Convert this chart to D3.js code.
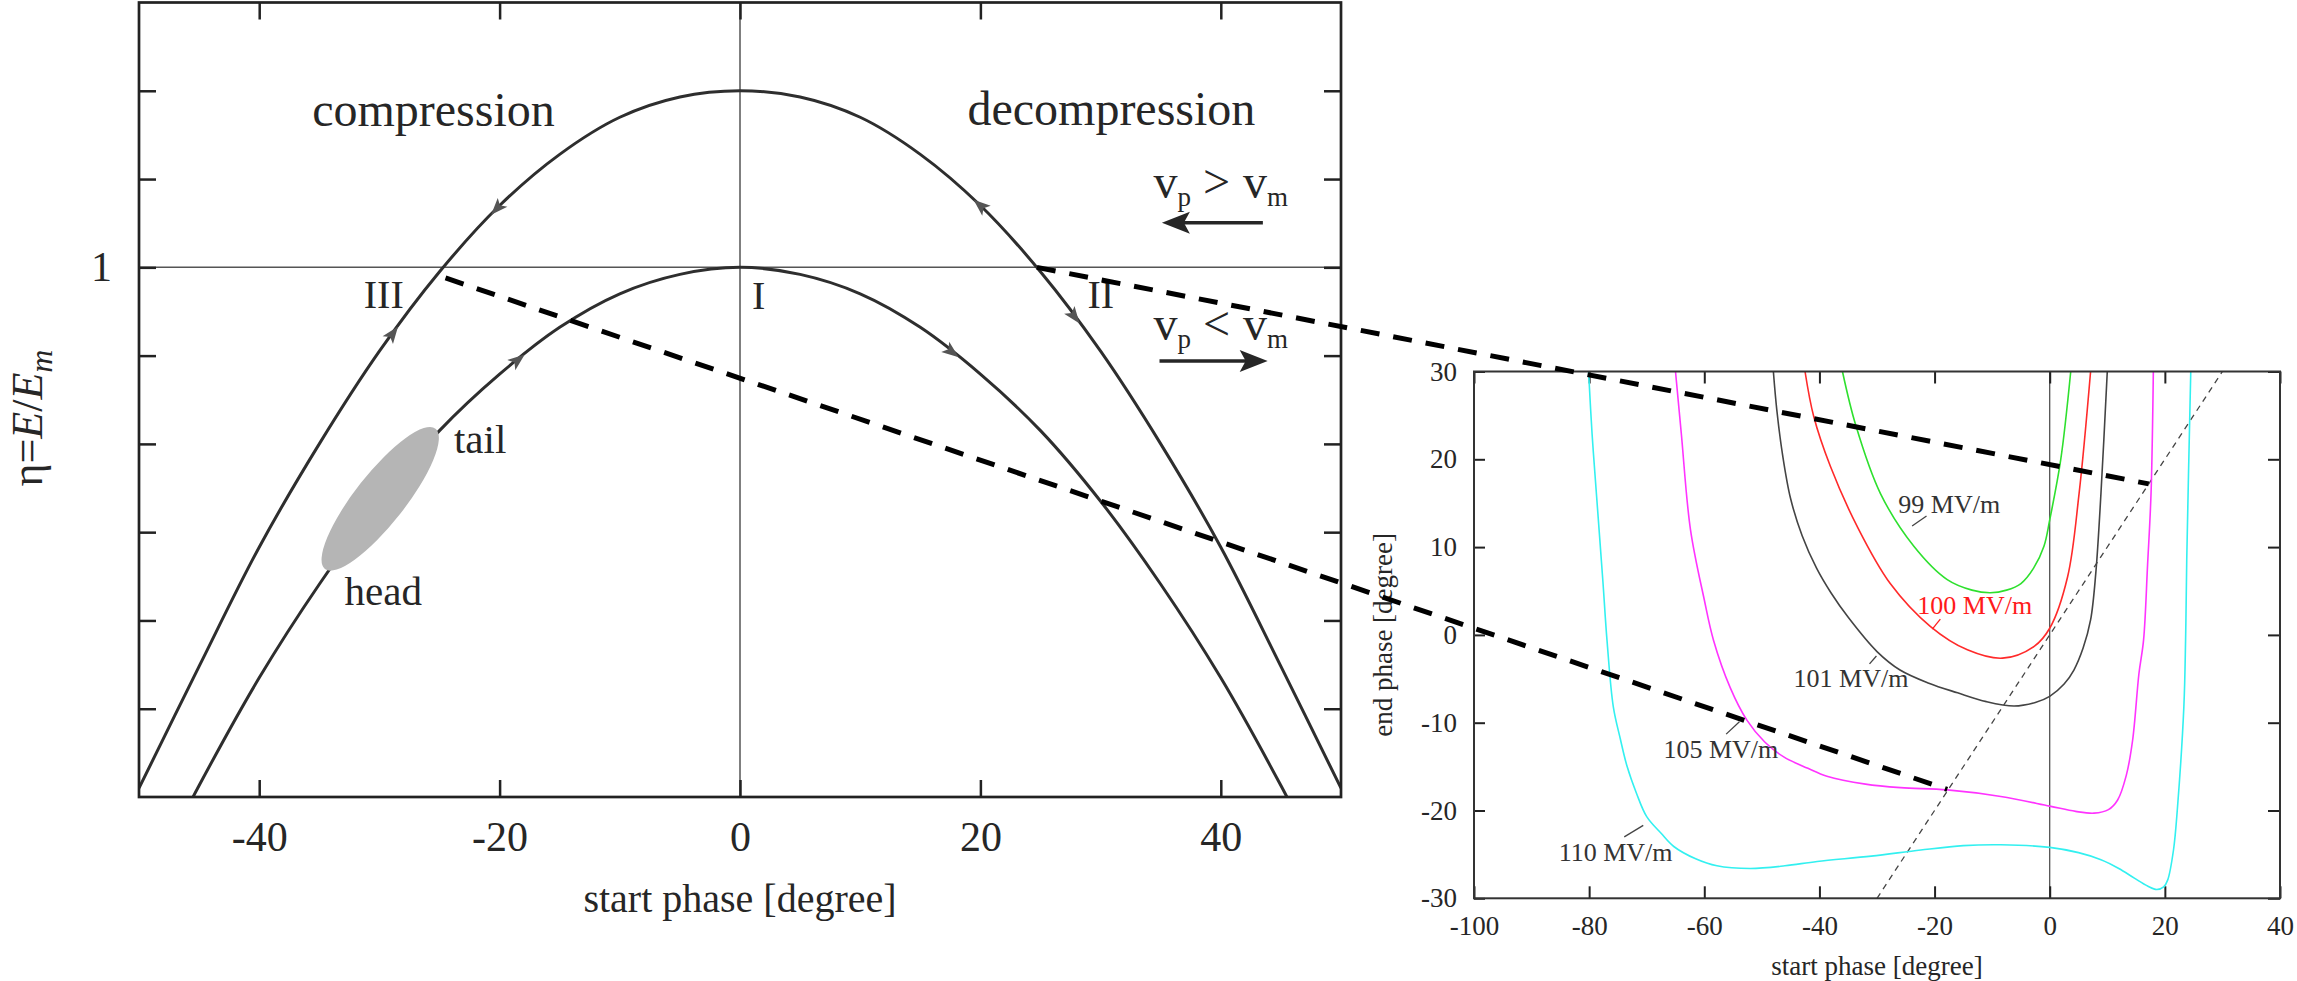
<!DOCTYPE html>
<html>
<head>
<meta charset="utf-8">
<script src="https://cdn.jsdelivr.net/npm/d3@7"></script>
<style>
  body { margin: 0; background: #fff; }
  svg, svg text { font-family: "Liberation Serif", "Times New Roman", serif; }
  svg { display: block; }
</style>
</head>
<body>
<svg id="fig" width="2297" height="981"></svg>
<script>
// ---------- left panel: longitudinal phase space ----------
const phaseOuter = [-50, -45, -40, -35, -30, -25, -20, -15, -10, -5, 0, 5, 10, 15, 20, 25, 30, 35, 40, 45, 50];
const etaOuter   = [0.41, 0.548, 0.683, 0.80, 0.905, 0.995, 1.07, 1.128, 1.17, 1.193, 1.2, 1.193, 1.17, 1.128, 1.07, 0.995, 0.905, 0.80, 0.683, 0.548, 0.41];
const phaseInner = [-47, -45, -40, -35, -30, -25, -20, -15, -10, -5, 0, 5, 10, 15, 20, 25, 30, 35, 40, 45, 47];
const etaInner   = [0.36, 0.413, 0.535, 0.641, 0.735, 0.815, 0.879, 0.932, 0.97, 0.992, 1.0, 0.992, 0.97, 0.932, 0.879, 0.815, 0.735, 0.641, 0.535, 0.413, 0.36];

const leftXTicks = [-40, -20, 0, 20, 40];
const leftYTicks = [0.5, 0.6, 0.7, 0.8, 0.9, 1, 1.1, 1.2];

// flow arrows on the trajectories: which curve, phase, direction of travel
const flowCurve = ['outer', 'outer', 'outer', 'outer', 'inner', 'inner'];
const flowPhase = [-20.2, -28.9, 20.0, 27.8, -18.5, 17.6];
const flowDir   = [-1, 1, -1, 1, 1, 1];

// bunch: head and tail in (phase, eta)
const bunchHead = [-34.2, 0.656];
const bunchTail = [-25.0, 0.815];

const leftLabels = ['compression', 'decompression', 'I', 'II', 'III', 'tail', 'head'];
const leftLabelPhase = [-25.5, 30.9, 1.0, 28.9, -31.3, -23.8, -32.9];
const leftLabelEta   = [1.1605, 1.1616, 0.953, 0.954, 0.954, 0.79, 0.617];

const velRel = ['>', '<'];
const velPhase = [34.4, 34.4];
const velEta = [1.079, 0.918];
const velArrowFrom = [[43.5, 1.0506], [34.9, 0.894]];
const velArrowTo   = [[35.1, 1.0506], [43.9, 0.894]];

// ---------- right panel: end phase vs start phase ----------
const rightXTicks = [-100, -80, -60, -40, -20, 0, 20, 40];
const rightYTicks = [-30, -20, -10, 0, 10, 20, 30];

const fieldNames = ['99 MV/m', '100 MV/m', '101 MV/m', '105 MV/m', '110 MV/m'];
const startPhase99  = [-36.0, -33.7, -29.4, -23.6, -17.8, -13.5, -10.3, -7.5, -5.0, -2.8, -1.0, 0, 1.9, 3.65];
const endPhase99    = [30, 23.9, 16.1, 10.1, 6.3, 5.1, 4.8, 5.1, 5.85, 7.6, 10.1, 13.1, 19.9, 30];
const startPhase100 = [-42.5, -41.0, -38.1, -33.4, -27.7, -20.7, -14.3, -8.2, -2.7, 0, 3.1, 5.1, 7.1];
const endPhase100   = [30, 24.9, 19.2, 12.3, 5.85, 0.95, -1.7, -2.65, -1.3, 0.76, 6.6, 16.1, 30];
const startPhase101 = [-48.0, -47.4, -46.4, -45.0, -43.0, -40.5, -38.0, -35.0, -30.0, -26.0, -21.0, -16.0, -11.0, -6.2, -2.5, 0, 2.5, 4.2, 5.8, 7.1, 8.0, 8.9, 10.0];
const endPhase101   = [30, 25.6, 20.5, 15.5, 11.3, 7.6, 4.8, 2.0, -1.9, -4.0, -5.5, -6.6, -7.6, -8.1, -7.7, -7.0, -5.6, -4.0, -1.5, 1.7, 7.0, 16.1, 30];
const startPhase105 = [-65.0, -64.0, -62.4, -60.0, -58.4, -55.5, -52.6, -49.5, -46.2, -42.0, -38.7, -32.0, -25.9, -17.8, -8.5, 0, 4.5, 7.7, 10.2, 11.8, 13.3, 14.4, 15.5, 16.3, 17.0, 17.6, 18.0];
const endPhase105   = [30, 23.0, 12.0, 4.0, -0.6, -6.0, -9.7, -12.2, -13.9, -15.2, -16.1, -17.0, -17.4, -17.65, -18.4, -19.5, -20.1, -20.3, -19.9, -18.8, -16.0, -12.0, -4.4, -0.6, 8.0, 16.1, 30];
const startPhase110 = [-80.1, -79.5, -78.7, -77.6, -76.9, -75.8, -74.6, -73.4, -71.8, -70.0, -67.5, -65.3, -61.5, -57.8, -52.0, -46.0, -40.4, -31.0, -22.4, -15.0, -8.5, 0, 5.0, 8.9, 12.0, 14.7, 17.0, 18.6, 19.8, 20.5, 21.5, 22.2, 23.3, 23.6, 23.8, 24.5];
const endPhase110   = [30, 23.0, 15.75, 6.0, -0.6, -8.2, -11.8, -15.0, -18.0, -20.7, -22.6, -24.1, -25.5, -26.3, -26.6, -26.3, -25.8, -25.2, -24.5, -24.0, -23.9, -24.2, -24.8, -25.6, -26.6, -27.7, -28.6, -29.0, -28.7, -27.9, -24.5, -19.6, -8.2, -0.6, 8.5, 30];

const diagStart = [-30, 30];
const diagEnd   = [-30, 30];

const fieldLabelX = [-26.3, -23.0, -44.5, -67.1, -85.3];
const fieldLabelY = [13.9, 2.4, -5.9, -14.0, -25.7];
const leaderLines = [
  [-23.9, 12.4, -21.4, 13.55],
  [-20.4, 0.65, -19.0, 1.8],
  [-31.3, -3.3, -30.1, -2.4],
  [-56.2, -11.3, -53.9, -9.9],
  [-73.9, -23.0, -70.6, -21.7]
];

// connectors between the two panels: point in left panel -> point in right panel
const linkLeft  = [[24.7, 1.0], [-24.5, 0.988]];
const linkRight = [[17.2, 17.2], [-17.8, -17.6]];

// ---------- drawing ----------
const ink = '#262626';
const fieldColors = ['#2ee02e', '#ff2a2a', '#444444', '#ff33ff', '#33f0f0'];

const svg = d3.select('#fig');

const xL = d3.scaleLinear().domain([-50, 50]).range([139, 1341]);
const yL = d3.scaleLinear().domain([0.4, 1.3]).range([797, 2.5]);
const xR = d3.scaleLinear().domain([-100, 40]).range([1474, 2280]);
const yR = d3.scaleLinear().domain([-30, 30]).range([898.3, 371.5]);

function styleAxis(g, width, size) {
  g.attr('font-family', null).attr('font-size', null);
  g.select('.domain').remove();
  g.selectAll('.tick line').attr('stroke', '#222').attr('stroke-width', width);
  g.selectAll('.tick text').attr('fill', ink).style('font-size', size + 'px');
}

const defs = svg.append('defs');
defs.append('clipPath').attr('id', 'clipL').append('rect')
  .attr('x', xL(-50)).attr('y', yL(1.3))
  .attr('width', xL(50) - xL(-50)).attr('height', yL(0.4) - yL(1.3));
defs.append('clipPath').attr('id', 'clipR').append('rect')
  .attr('x', xR(-100)).attr('y', yR(30))
  .attr('width', xR(40) - xR(-100)).attr('height', yR(-30) - yR(30));

// ===== left panel =====
const left = svg.append('g').attr('class', 'left-panel');

left.append('line')
  .attr('x1', xL(0)).attr('x2', xL(0)).attr('y1', yL(1.3)).attr('y2', yL(0.4))
  .attr('stroke', '#555').attr('stroke-width', 1.5);
left.append('line')
  .attr('x1', xL(-50)).attr('x2', xL(50)).attr('y1', yL(1)).attr('y2', yL(1))
  .attr('stroke', '#555').attr('stroke-width', 1.5);

left.append('g').attr('transform', `translate(0,${yL(0.4)})`)
  .call(d3.axisBottom(xL).tickValues(leftXTicks).tickSize(-17).tickPadding(24).tickFormat(d => String(d)))
  .call(g => styleAxis(g, 2.5, 42));
left.append('g').attr('transform', `translate(0,${yL(1.3)})`)
  .call(d3.axisTop(xL).tickValues(leftXTicks).tickSize(-17).tickFormat(''))
  .call(g => styleAxis(g, 2.5, 42));
left.append('g').attr('transform', `translate(${xL(-50)},0)`)
  .call(d3.axisLeft(yL).tickValues(leftYTicks).tickSize(-17).tickPadding(27).tickFormat(d => d === 1 ? '1' : ''))
  .call(g => styleAxis(g, 2.5, 42));
left.append('g').attr('transform', `translate(${xL(50)},0)`)
  .call(d3.axisRight(yL).tickValues(leftYTicks).tickSize(-17).tickFormat(''))
  .call(g => styleAxis(g, 2.5, 42));

const lineL = d3.line().x(d => xL(d[0])).y(d => yL(d[1])).curve(d3.curveCatmullRom);
const curvesL = { outer: d3.zip(phaseOuter, etaOuter), inner: d3.zip(phaseInner, etaInner) };
const interpL = {
  outer: d3.scaleLinear().domain(phaseOuter).range(etaOuter),
  inner: d3.scaleLinear().domain(phaseInner).range(etaInner)
};

const trajG = left.append('g').attr('clip-path', 'url(#clipL)');
Object.values(curvesL).forEach(pts => {
  trajG.append('path').datum(pts).attr('d', lineL)
    .attr('fill', 'none').attr('stroke', '#2e2e2e').attr('stroke-width', 3);
});

// bunch, drawn over the trajectory
const hx = xL(bunchHead[0]), hy = yL(bunchHead[1]);
const tx = xL(bunchTail[0]), ty = yL(bunchTail[1]);
left.append('ellipse')
  .attr('cx', 0).attr('cy', 0)
  .attr('rx', Math.hypot(tx - hx, ty - hy) / 2).attr('ry', 25)
  .attr('transform', `translate(${(hx + tx) / 2 - 4},${(hy + ty) / 2 - 2}) rotate(${Math.atan2(ty - hy, tx - hx) * 180 / Math.PI})`)
  .attr('fill', '#b5b5b5');

// flow arrowheads
flowPhase.forEach((p, i) => {
  const f = interpL[flowCurve[i]];
  const d = flowDir[i];
  const x0 = xL(p), y0 = yL(f(p));
  const x1 = xL(p + d * 0.4), y1 = yL(f(p + d * 0.4));
  const ang = Math.atan2(y1 - y0, x1 - x0) * 180 / Math.PI;
  left.append('path')
    .attr('d', 'M9,0 L-8,-6.5 L-4,0 L-8,6.5 Z')
    .attr('transform', `translate(${x0},${y0}) rotate(${ang})`)
    .attr('fill', '#555');
});

// labels
leftLabels.forEach((t, i) => {
  const big = i < 2;
  left.append('text')
    .attr('x', xL(leftLabelPhase[i])).attr('y', yL(leftLabelEta[i]))
    .attr('text-anchor', big ? 'middle' : 'start')
    .attr('fill', ink)
    .style('font-size', big ? '48px' : (i < 5 ? '40px' : '41px'))
    .text(t);
});

velRel.forEach((rel, i) => {
  const t = left.append('text')
    .attr('x', xL(velPhase[i])).attr('y', yL(velEta[i]))
    .attr('fill', ink).style('font-size', '48px');
  t.append('tspan').text('v');
  t.append('tspan').attr('dy', 8).style('font-size', '27px').text('p');
  t.append('tspan').attr('dy', -8).attr('dx', 12).text(rel);
  t.append('tspan').attr('dx', 13).text('v');
  t.append('tspan').attr('dy', 8).style('font-size', '27px').text('m');
});

velArrowFrom.forEach((from, i) => {
  const to = velArrowTo[i];
  const x0 = xL(from[0]), y0 = yL(from[1]);
  const x1 = xL(to[0]), y1 = yL(to[1]);
  const ang = Math.atan2(y1 - y0, x1 - x0);
  const len = Math.hypot(x1 - x0, y1 - y0);
  const g = left.append('g')
    .attr('transform', `translate(${x0},${y0}) rotate(${ang * 180 / Math.PI})`);
  g.append('line').attr('x1', 0).attr('y1', 0).attr('x2', len - 20).attr('y2', 0)
    .attr('stroke', '#262626').attr('stroke-width', 3.5);
  g.append('path')
    .attr('d', `M${len},0 L${len - 28},-11 L${len - 22},0 L${len - 28},11 Z`)
    .attr('fill', '#262626');
});

left.append('text')
  .attr('x', xL(0)).attr('y', 912)
  .attr('text-anchor', 'middle').attr('fill', ink).style('font-size', '40px')
  .text('start phase [degree]');

const yt = left.append('text')
  .attr('transform', 'translate(42,418) rotate(-90)')
  .attr('text-anchor', 'middle').attr('fill', ink).style('font-size', '44px');
yt.append('tspan').text('η=');
yt.append('tspan').style('font-style', 'italic').text('E');
yt.append('tspan').text('/');
yt.append('tspan').style('font-style', 'italic').text('E');
yt.append('tspan').attr('dy', 10).style('font-style', 'italic').style('font-size', '32px').text('m');

left.append('rect')
  .attr('x', xL(-50)).attr('y', yL(1.3))
  .attr('width', xL(50) - xL(-50)).attr('height', yL(0.4) - yL(1.3))
  .attr('fill', 'none').attr('stroke', '#222').attr('stroke-width', 2.7);

// ===== right panel =====
const right = svg.append('g').attr('class', 'right-panel');

right.append('line')
  .attr('x1', xR(0)).attr('x2', xR(0)).attr('y1', yR(30)).attr('y2', yR(-30))
  .attr('stroke', '#444').attr('stroke-width', 1.2);

right.append('g').attr('transform', `translate(0,${yR(-30)})`)
  .call(d3.axisBottom(xR).tickValues(rightXTicks).tickSize(-12).tickPadding(17.5).tickFormat(d => String(d)))
  .call(g => styleAxis(g, 2, 27));
right.append('g').attr('transform', `translate(0,${yR(30)})`)
  .call(d3.axisTop(xR).tickValues(rightXTicks).tickSize(-12).tickFormat(''))
  .call(g => styleAxis(g, 2, 27));
right.append('g').attr('transform', `translate(${xR(-100)},0)`)
  .call(d3.axisLeft(yR).tickValues(rightYTicks).tickSize(-11).tickPadding(17).tickFormat(d => String(d)))
  .call(g => styleAxis(g, 2, 27));
right.append('g').attr('transform', `translate(${xR(40)},0)`)
  .call(d3.axisRight(yR).tickValues(rightYTicks).tickSize(-12).tickFormat(''))
  .call(g => styleAxis(g, 2, 27));

const lineR = d3.line().x(d => xR(d[0])).y(d => yR(d[1])).curve(d3.curveCatmullRom.alpha(0.5));
const curvesR = [
  d3.zip(startPhase99, endPhase99),
  d3.zip(startPhase100, endPhase100),
  d3.zip(startPhase101, endPhase101),
  d3.zip(startPhase105, endPhase105),
  d3.zip(startPhase110, endPhase110)
];
const fieldG = right.append('g').attr('clip-path', 'url(#clipR)');
fieldG.append('path').datum(d3.zip(diagStart, diagEnd))
  .attr('d', d3.line().x(d => xR(d[0])).y(d => yR(d[1])))
  .attr('fill', 'none').attr('stroke', '#444').attr('stroke-width', 1.3)
  .attr('stroke-dasharray', '6,5');
curvesR.forEach((pts, i) => {
  fieldG.append('path').datum(pts).attr('d', lineR)
    .attr('fill', 'none').attr('stroke', fieldColors[i]).attr('stroke-width', 1.6);
});

fieldNames.forEach((name, i) => {
  const l = leaderLines[i];
  const c = i === 1 ? '#ff2020' : '#444';
  right.append('line')
    .attr('x1', xR(l[0])).attr('y1', yR(l[1])).attr('x2', xR(l[2])).attr('y2', yR(l[3]))
    .attr('stroke', c).attr('stroke-width', 1.3);
  right.append('text')
    .attr('x', xR(fieldLabelX[i])).attr('y', yR(fieldLabelY[i]))
    .attr('fill', i === 1 ? '#ff1a1a' : '#333').style('font-size', '26px')
    .text(name);
});

right.append('rect')
  .attr('x', xR(-100)).attr('y', yR(30))
  .attr('width', xR(40) - xR(-100)).attr('height', yR(-30) - yR(30))
  .attr('fill', 'none').attr('stroke', '#333').attr('stroke-width', 2);

right.append('text')
  .attr('x', (xR(-100) + xR(40)) / 2).attr('y', 975)
  .attr('text-anchor', 'middle').attr('fill', ink).style('font-size', '27px')
  .text('start phase [degree]');
right.append('text')
  .attr('transform', `translate(1392,${(yR(30) + yR(-30)) / 2}) rotate(-90)`)
  .attr('text-anchor', 'middle').attr('fill', ink).style('font-size', '27px')
  .text('end phase [degree]');

// ===== connectors between panels =====
linkLeft.forEach((a, i) => {
  const b = linkRight[i];
  svg.append('line')
    .attr('x1', xL(a[0])).attr('y1', yL(a[1]))
    .attr('x2', xR(b[0])).attr('y2', yR(b[1]))
    .attr('stroke', '#000').attr('stroke-width', 5)
    .attr('stroke-dasharray', '19,14');
});
</script>
</body>
</html>
